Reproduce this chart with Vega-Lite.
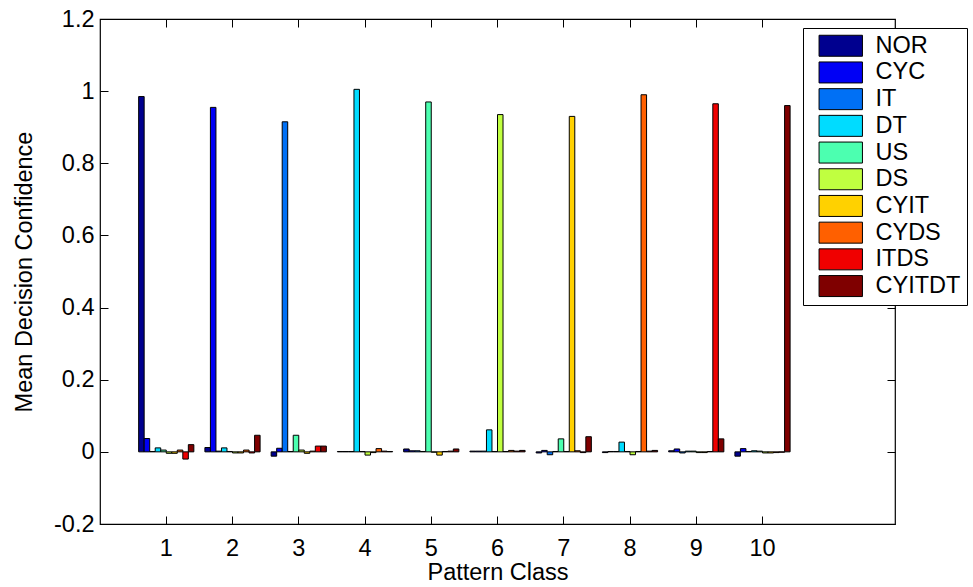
{
  "$schema": "https://vega.github.io/schema/vega-lite/v6.json",
  "width": 795,
  "height": 505,
  "autosize": {"type": "none"},
  "padding": {"left": 100, "top": 19, "right": 78, "bottom": 63},
  "background": "white",
  "config": {
    "view": {"stroke": "black", "strokeWidth": 1.2},
    "font": "Liberation Sans",
    "axis": {
      "labelFont": "Liberation Sans", "titleFont": "Liberation Sans",
      "labelFontSize": 23.5, "titleFontSize": 23.5, "titleFontWeight": "normal",
      "labelColor": "black", "titleColor": "black", "tickColor": "black",
      "domain": false, "grid": false, "tickSize": -8, "tickWidth": 1
    }
  },
  "data": {"values": [
    {"c":1,"s":"NOR","v":0.985},{"c":1,"s":"CYC","v":0.037},{"c":1,"s":"IT","v":0.001},{"c":1,"s":"DT","v":0.011},{"c":1,"s":"US","v":0.005},{"c":1,"s":"DS","v":-0.004},{"c":1,"s":"CYIT","v":-0.004},{"c":1,"s":"CYDS","v":0.005},{"c":1,"s":"ITDS","v":-0.02},{"c":1,"s":"CYITDT","v":0.02},
    {"c":2,"s":"NOR","v":0.012},{"c":2,"s":"CYC","v":0.955},{"c":2,"s":"IT","v":0.002},{"c":2,"s":"DT","v":0.011},{"c":2,"s":"US","v":0.001},{"c":2,"s":"DS","v":-0.003},{"c":2,"s":"CYIT","v":-0.003},{"c":2,"s":"CYDS","v":0.005},{"c":2,"s":"ITDS","v":-0.003},{"c":2,"s":"CYITDT","v":0.046},
    {"c":3,"s":"NOR","v":-0.012},{"c":3,"s":"CYC","v":0.01},{"c":3,"s":"IT","v":0.915},{"c":3,"s":"DT","v":0.001},{"c":3,"s":"US","v":0.046},{"c":3,"s":"DS","v":0.005},{"c":3,"s":"CYIT","v":-0.004},{"c":3,"s":"CYDS","v":0.002},{"c":3,"s":"ITDS","v":0.016},{"c":3,"s":"CYITDT","v":0.016},
    {"c":4,"s":"NOR","v":0.001},{"c":4,"s":"CYC","v":0.001},{"c":4,"s":"IT","v":0.001},{"c":4,"s":"DT","v":1.005},{"c":4,"s":"US","v":0.001},{"c":4,"s":"DS","v":-0.009},{"c":4,"s":"CYIT","v":-0.002},{"c":4,"s":"CYDS","v":0.009},{"c":4,"s":"ITDS","v":0.002},{"c":4,"s":"CYITDT","v":0.001},
    {"c":5,"s":"NOR","v":0.008},{"c":5,"s":"CYC","v":0.003},{"c":5,"s":"IT","v":0.003},{"c":5,"s":"DT","v":0.001},{"c":5,"s":"US","v":0.97},{"c":5,"s":"DS","v":-0.001},{"c":5,"s":"CYIT","v":-0.009},{"c":5,"s":"CYDS","v":0.001},{"c":5,"s":"ITDS","v":0.002},{"c":5,"s":"CYITDT","v":0.008},
    {"c":6,"s":"NOR","v":0.002},{"c":6,"s":"CYC","v":0.002},{"c":6,"s":"IT","v":0.002},{"c":6,"s":"DT","v":0.061},{"c":6,"s":"US","v":0.001},{"c":6,"s":"DS","v":0.935},{"c":6,"s":"CYIT","v":0.001},{"c":6,"s":"CYDS","v":0.004},{"c":6,"s":"ITDS","v":0.002},{"c":6,"s":"CYITDT","v":0.004},
    {"c":7,"s":"NOR","v":-0.003},{"c":7,"s":"CYC","v":0.004},{"c":7,"s":"IT","v":-0.008},{"c":7,"s":"DT","v":0.001},{"c":7,"s":"US","v":0.036},{"c":7,"s":"DS","v":0.001},{"c":7,"s":"CYIT","v":0.93},{"c":7,"s":"CYDS","v":0.003},{"c":7,"s":"ITDS","v":-0.002},{"c":7,"s":"CYITDT","v":0.042},
    {"c":8,"s":"NOR","v":-0.002},{"c":8,"s":"CYC","v":0.001},{"c":8,"s":"IT","v":0.001},{"c":8,"s":"DT","v":0.027},{"c":8,"s":"US","v":0.001},{"c":8,"s":"DS","v":-0.008},{"c":8,"s":"CYIT","v":0.001},{"c":8,"s":"CYDS","v":0.99},{"c":8,"s":"ITDS","v":0.002},{"c":8,"s":"CYITDT","v":0.004},
    {"c":9,"s":"NOR","v":0.003},{"c":9,"s":"CYC","v":0.008},{"c":9,"s":"IT","v":-0.003},{"c":9,"s":"DT","v":0.002},{"c":9,"s":"US","v":0.002},{"c":9,"s":"DS","v":-0.002},{"c":9,"s":"CYIT","v":-0.002},{"c":9,"s":"CYDS","v":0.001},{"c":9,"s":"ITDS","v":0.965},{"c":9,"s":"CYITDT","v":0.036},
    {"c":10,"s":"NOR","v":-0.012},{"c":10,"s":"CYC","v":0.009},{"c":10,"s":"IT","v":0.001},{"c":10,"s":"DT","v":0.003},{"c":10,"s":"US","v":0.002},{"c":10,"s":"DS","v":-0.003},{"c":10,"s":"CYIT","v":-0.003},{"c":10,"s":"CYDS","v":-0.002},{"c":10,"s":"ITDS","v":-0.001},{"c":10,"s":"CYITDT","v":0.96}
  ]},
  "resolve": {"axis": {"x": "independent", "y": "independent"}},
  "layer": [
    {
      "mark": {"type": "bar", "stroke": "black", "strokeWidth": 1, "cornerRadius": 0},
      "encoding": {
        "x": {"field": "c", "type": "ordinal",
          "scale": {"type": "band", "domain": [1,2,3,4,5,6,7,8,9,10], "paddingInner": 0, "paddingOuter": 1, "align": 0.25},
          "axis": {"orient": "bottom", "title": "Pattern Class", "labelAngle": 0, "labelPadding": 20, "titlePadding": 1}},
        "xOffset": {"field": "s", "type": "nominal",
          "scale": {"domain": ["NOR","CYC","IT","DT","US","DS","CYIT","CYDS","ITDS","CYITDT"], "paddingInner": 0, "paddingOuter": 1.25}},
        "y": {"field": "v", "type": "quantitative",
          "scale": {"domain": [-0.2, 1.2], "nice": false, "zero": false},
          "axis": {"orient": "left", "title": "Mean Decision Confidence", "values": [-0.2,0,0.2,0.4,0.6,0.8,1,1.2],
            "labelExpr": "datum.value < 0 ? '-' + format(-datum.value, '~g') : format(datum.value, '~g')",
            "labelPadding": 14, "titlePadding": 17}},
        "color": {"field": "s", "type": "nominal",
          "scale": {"domain": ["NOR","CYC","IT","DT","US","DS","CYIT","CYDS","ITDS","CYITDT"],
            "range": ["#00008F","#0000F5","#0070F5","#00DCFF","#4CFFB0","#C0FF40","#FFD100","#FF6000","#F00000","#7F0000"]},
          "legend": {"orient": "none", "legendX": 703, "legendY": 9, "title": null,
            "padding": 6, "symbolOffset": 20,
            "strokeColor": "black", "fillColor": "white",
            "symbolType": "M-2.17,-1.05H2.17V1.05H-2.17Z", "symbolSize": 400,
            "symbolStrokeColor": "black", "symbolStrokeWidth": 1, "symbolOpacity": 1,
            "labelFont": "Liberation Sans", "labelFontSize": 23.5, "labelColor": "black",
            "labelOffset": 23, "rowPadding": 0.7, "labelLimit": 200}}
      }
    },
    {
      "mark": {"type": "bar", "opacity": 0},
      "encoding": {
        "x": {"field": "c", "type": "ordinal",
          "scale": {"type": "band", "domain": [1,2,3,4,5,6,7,8,9,10], "paddingInner": 0, "paddingOuter": 1, "align": 0.25},
          "axis": {"orient": "top", "title": null, "labels": false}},
        "y": {"field": "v", "type": "quantitative",
          "scale": {"domain": [-0.2, 1.2], "nice": false, "zero": false},
          "axis": {"orient": "right", "title": null, "labels": false, "values": [-0.2,0,0.2,0.4,0.6,0.8,1,1.2]}}
      }
    }
  ]
}
